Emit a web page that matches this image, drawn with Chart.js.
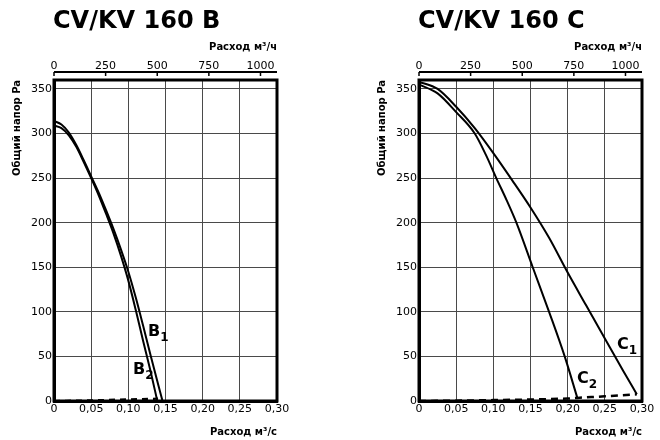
<!DOCTYPE html>
<html>
<head>
<meta charset="utf-8">
<script src="https://cdn.jsdelivr.net/npm/chart.js@4.4.1/dist/chart.umd.min.js"></script>
<style>
  body { margin: 0; background: #fff; }
  canvas { position: absolute; top: 0; }
  #chartB { left: 0; }
  #chartC { left: 330px; }
</style>
</head>
<body>
<canvas id="chartB" width="330" height="440"></canvas>
<canvas id="chartC" width="330" height="440"></canvas>
<script>
// axis ticks
const flowTicks = [0, 0.05, 0.10, 0.15, 0.20, 0.25, 0.30];   // m3/s
const hourTicks = [0, 250, 500, 750, 1000];                  // m3/h
const paTicks = [0, 50, 100, 150, 200, 250, 300, 350];       // Pa

// CV/KV 160 B
const b1Flow = [0, 0.01, 0.02, 0.03, 0.04, 0.05, 0.06, 0.07, 0.08, 0.09, 0.10, 0.11, 0.12, 0.13, 0.146];
const b1Pa   = [314, 310, 301, 287, 270, 252, 234, 214, 193, 170, 145, 116, 84, 51, 0];
const b2Flow = [0, 0.01, 0.02, 0.03, 0.04, 0.05, 0.06, 0.07, 0.08, 0.09, 0.10, 0.11, 0.12, 0.13, 0.139];
const b2Pa   = [309, 306, 298, 285, 268, 250, 231, 210, 188, 163, 135, 102, 67, 33, 0];
const sysBFlow = [0, 0.05, 0.10, 0.14];
const sysBPa   = [0, 0.8, 1.8, 2.6];

// CV/KV 160 C
const c1Flow = [0, 0.025, 0.05, 0.075, 0.10, 0.125, 0.15, 0.175, 0.20, 0.225, 0.25, 0.275, 0.293];
const c1Pa   = [358, 350, 330, 306, 278, 248, 217, 183, 144, 107, 70, 33.5, 7.5];
const c2Flow = [0, 0.025, 0.05, 0.075, 0.09, 0.104, 0.118, 0.131, 0.153, 0.175, 0.196, 0.213];
const c2Pa   = [355, 345, 324, 300, 276, 250, 225, 200, 150, 100, 50, 3.5];
const sysCFlow = [0, 0.05, 0.10, 0.15, 0.20, 0.213, 0.25, 0.293];
const sysCPa   = [0, 0.4, 1, 1.7, 2.8, 3.5, 5.2, 7.5];

// curve names: letter, index, flow, Pa
const labelsB = [["B", "1", 0.1265, 73], ["B", "2", 0.1063, 30]];
const labelsC = [["C", "1", 0.2664, 58], ["C", "2", 0.2126, 20]];

function pts(xs, ys) {
  return xs.map((x, i) => ({ x: x, y: ys[i] }));
}

function curve(xs, ys, width, dash) {
  return {
    data: pts(xs, ys),
    showLine: true,
    borderColor: "#000",
    borderWidth: width,
    borderDash: dash || [],
    pointRadius: 0,
    cubicInterpolationMode: "monotone",
    fill: false,
    clip: 6
  };
}

const decor = {
  id: "decor",
  beforeDatasetsDraw(chart) {
    const a = chart.chartArea, ctx = chart.ctx;
    ctx.save();
    ctx.strokeStyle = "#000";
    ctx.lineWidth = 3;
    ctx.strokeRect(a.left, a.top, a.right - a.left, a.bottom - a.top);
    ctx.restore();
  },
  afterDraw(chart, args, o) {
    const a = chart.chartArea, ctx = chart.ctx;
    const top = chart.scales.x2, x = chart.scales.x, y = chart.scales.y;
    ctx.save();
    ctx.fillStyle = "#000";
    ctx.font = 'bold 24px "DejaVu Sans"';
    ctx.textBaseline = "alphabetic";
    ctx.fillText(o.title, a.left - 1, 28);

    const ly = a.top - 8;
    ctx.strokeStyle = "#000";
    ctx.lineWidth = 2;
    ctx.beginPath();
    ctx.moveTo(top.getPixelForValue(0), ly);
    ctx.lineTo(a.right, ly);
    ctx.stroke();
    ctx.lineWidth = 1.5;
    hourTicks.forEach(v => {
      const px = top.getPixelForValue(v);
      ctx.beginPath();
      ctx.moveTo(px, ly);
      ctx.lineTo(px, ly + 4);
      ctx.stroke();
    });

    o.labels.forEach(l => {
      const px = x.getPixelForValue(l[2]), py = y.getPixelForValue(l[3]);
      ctx.font = 'bold 16px "DejaVu Sans"';
      ctx.fillText(l[0], px, py);
      const w = ctx.measureText(l[0]).width;
      ctx.font = 'bold 12px "DejaVu Sans"';
      ctx.fillText(l[1], px + w, py + 5);
    });
    ctx.restore();
  }
};

const tickFont = { family: "DejaVu Sans", size: 11 };
const titleFont = { family: "DejaVu Sans", size: 10, weight: "bold" };
const gridColor = "#4a4a4a";

function makeChart(id, datasets, title, labels, padLeft, padRight) {
  return new Chart(document.getElementById(id), {
    type: "scatter",
    data: { datasets: datasets },
    plugins: [decor],
    options: {
      responsive: false,
      animation: false,
      layout: { padding: { top: 30, left: padLeft, right: padRight, bottom: 0 } },
      plugins: {
        legend: { display: false },
        tooltip: { enabled: false },
        decor: { title: title, labels: labels }
      },
      scales: {
        x: {
          type: "linear",
          position: "bottom",
          min: 0,
          max: 0.3,
          afterBuildTicks: s => { s.ticks = flowTicks.map(v => ({ value: v })); },
          afterFit: s => { s.height = 39; },
          ticks: {
            color: "#000",
            font: tickFont,
            padding: 2,
            maxRotation: 0,
            autoSkip: false,
            callback: v => v === 0 ? "0" : v.toFixed(2).replace(".", ",")
          },
          grid: { color: gridColor, lineWidth: 1, drawTicks: false },
          border: { color: "#000", width: 3 },
          title: {
            display: true,
            text: "Расход м³/с",
            align: "end",
            color: "#000",
            font: titleFont,
            padding: { top: 0, bottom: 2 }
          }
        },
        x2: {
          type: "linear",
          position: "top",
          min: 0,
          max: 1080,
          afterBuildTicks: s => { s.ticks = hourTicks.map(v => ({ value: v })); },
          afterFit: s => { s.height = 50; },
          ticks: {
            color: "#000",
            font: tickFont,
            padding: 7,
            maxRotation: 0,
            autoSkip: false,
            callback: v => String(v)
          },
          grid: { display: false, drawTicks: false, tickLength: 0 },
          border: { display: false },
          title: {
            display: true,
            text: "Расход м³/ч",
            align: "end",
            color: "#000",
            font: titleFont,
            padding: { top: 11.5, bottom: 0 }
          }
        },
        y: {
          min: 0,
          max: 360,
          afterBuildTicks: s => { s.ticks = paTicks.map(v => ({ value: v })); },
          afterFit: s => { s.width = 54; },
          ticks: { color: "#000", font: tickFont, padding: 2 },
          grid: { color: gridColor, lineWidth: 1, drawTicks: false },
          border: { color: "#000", width: 3 },
          title: {
            display: true,
            text: "Общий напор Pa",
            align: "end",
            color: "#000",
            font: titleFont,
            padding: { top: 11, bottom: 0 }
          }
        }
      }
    }
  });
}

makeChart("chartB", [
  curve(b1Flow, b1Pa, 2),
  curve(b2Flow, b2Pa, 2),
  curve(sysBFlow, sysBPa, 2.2, [6, 5])
], "CV/KV 160 B", labelsB, 0, 53);

makeChart("chartC", [
  curve(c1Flow, c1Pa, 2),
  curve(c2Flow, c2Pa, 2),
  curve(sysCFlow, sysCPa, 2.5, [7, 5])
], "CV/KV 160 C", labelsC, 35, 18);
</script>
</body>
</html>
